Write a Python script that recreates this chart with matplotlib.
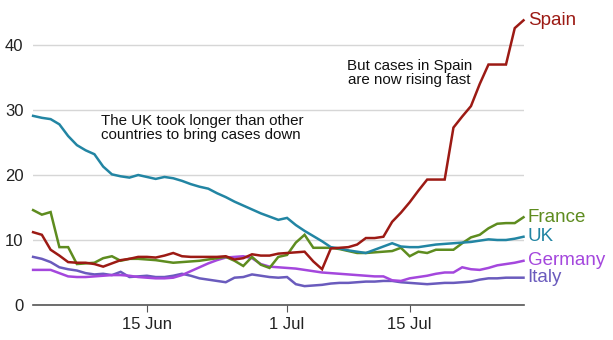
import pandas as pd
import matplotlib
matplotlib.use("Agg")
from matplotlib import pyplot as plt

plt.rcParams['font.family'] = ['Liberation Sans', 'DejaVu Sans']

# Daily values, 2 Jun to 28 Jul
dates = pd.date_range("2020-06-02", "2020-07-28")

uk = [29.1, 28.8, 28.6, 27.8, 26.0, 24.6, 23.8, 23.2, 21.3, 20.1,
      19.8, 19.6, 20.0, 19.7, 19.4, 19.7, 19.5, 19.1, 18.6, 18.2,
      17.9, 17.2, 16.6, 15.9, 15.3, 14.7, 14.1, 13.6, 13.1, 13.4,
      12.3, 11.4, 10.6, 9.8, 8.9, 8.7, 8.4, 8.2, 8.0, 8.5,
      9.0, 9.5, 9.0, 8.9, 8.9, 9.1, 9.3, 9.4, 9.5, 9.6,
      9.7, 9.9, 10.1, 10.0, 10.0, 10.2, 10.5]

spain = [11.2, 10.8, 8.5, 7.6, 6.6, 6.5, 6.5, 6.3, 5.9, 6.4,
         6.9, 7.1, 7.4, 7.4, 7.3, 7.6, 8.0, 7.5, 7.4, 7.4,
         7.4, 7.4, 7.5, 7.0, 7.2, 7.8, 7.6, 7.6, 7.9, 8.0,
         8.1, 8.2, 6.7, 5.5, 8.7, 8.8, 8.9, 9.3, 10.3, 10.3,
         10.5, 12.8, 14.2, 15.8, 17.6, 19.3, 19.3, 19.3, 27.3, 29.0,
         30.6, 34.0, 37.0, 37.0, 37.0, 42.6, 43.8]

france = [14.6, 13.9, 14.3, 8.9, 8.9, 6.3, 6.4, 6.5, 7.2, 7.5,
          6.8, 7.1, 7.1, 7.0, 6.9, 6.7, 6.5, 6.6, 6.7, 6.8,
          7.0, 7.2, 7.4, 6.8, 6.0, 7.4, 6.2, 5.7, 7.4, 7.7,
          9.6, 10.8, 8.8, 8.8, 8.8, 8.6, 8.3, 8.0, 8.0, 8.1,
          8.2, 8.3, 8.8, 7.5, 8.2, 8.0, 8.5, 8.5, 8.5, 9.5,
          10.4, 10.8, 11.8, 12.5, 12.6, 12.6, 13.5]

germany = [5.4, 5.4, 5.4, 4.9, 4.4, 4.3, 4.3, 4.4, 4.5, 4.6,
           4.6, 4.5, 4.3, 4.2, 4.1, 4.1, 4.2, 4.6, 5.2, 5.8,
           6.4, 6.9, 7.3, 7.4, 7.5, 7.2, 6.3, 5.9, 5.8, 5.7,
           5.6, 5.4, 5.2, 5.0, 4.9, 4.8, 4.7, 4.6, 4.5, 4.4,
           4.4, 3.8, 3.7, 4.1, 4.3, 4.5, 4.8, 5.0, 5.0, 5.8,
           5.5, 5.4, 5.7, 6.1, 6.3, 6.5, 6.8]

italy = [7.4, 7.1, 6.6, 5.8, 5.5, 5.3, 4.9, 4.7, 4.8, 4.6,
         5.1, 4.3, 4.4, 4.5, 4.3, 4.3, 4.5, 4.8, 4.5, 4.1,
         3.9, 3.7, 3.5, 4.2, 4.3, 4.7, 4.5, 4.3, 4.2, 4.3,
         3.2, 2.9, 3.0, 3.1, 3.3, 3.4, 3.4, 3.5, 3.6, 3.6,
         3.7, 3.7, 3.5, 3.4, 3.3, 3.2, 3.3, 3.4, 3.4, 3.5,
         3.6, 3.9, 4.1, 4.1, 4.2, 4.2, 4.2]

tick_dates = ["2020-06-15", "2020-07-01", "2020-07-15"]
tick_labels = ["15 Jun", "1 Jul", "15 Jul"]
y_ticks = [0, 10, 20, 30, 40]

series = [
    ("Italy", italy, "#6a5bbd"),
    ("Germany", germany, "#a447dd"),
    ("France", france, "#5e8c1f"),
    ("UK", uk, "#2285a3"),
    ("Spain", spain, "#9c1a14"),
]

fig = plt.figure(figsize=(6.13, 3.40), dpi=100)
ax = fig.add_axes([0.054, 0.103, 0.800, 0.841])

for name, values, color in series:
    ax.plot(dates, values, color=color, linewidth=1.8, clip_on=False,
            solid_joinstyle="miter")
    # Country name at the end of each line
    ax.annotate(name, xy=(dates[-1], values[-1]), xytext=(3, 0),
                textcoords="offset points", color=color, fontsize=13.5,
                va="center", ha="left", annotation_clip=False)

ax.set_xlim(dates[0], dates[-1])
ax.set_ylim(0, 44)
ax.set_yticks(y_ticks)
ax.set_xticks(pd.to_datetime(tick_dates))
ax.set_xticklabels(tick_labels)
ax.grid(axis="y", color="#d6d6d6", linewidth=1)
ax.set_axisbelow(True)

for side in ["top", "right", "left"]:
    ax.spines[side].set_visible(False)
ax.spines["bottom"].set_color("#555555")
ax.spines["bottom"].set_linewidth(1.2)
ax.tick_params(axis="y", length=0, labelsize=12, pad=7, colors="#222222")
ax.tick_params(axis="x", length=5, color="#555555", labelsize=12,
               pad=4, colors="#222222")

ax.text(pd.Timestamp("2020-06-09") + pd.Timedelta(hours=19), 27.2,
        "The UK took longer than other\ncountries to bring cases down",
        fontsize=10.9, ha="left", va="center", color="#111111",
        linespacing=1.05)
ax.text(pd.Timestamp("2020-07-15"), 35.7,
        "But cases in Spain\nare now rising fast",
        fontsize=10.9, ha="center", va="center", color="#111111",
        linespacing=1.05, multialignment="center")

fig.savefig("out.png", dpi=100)
